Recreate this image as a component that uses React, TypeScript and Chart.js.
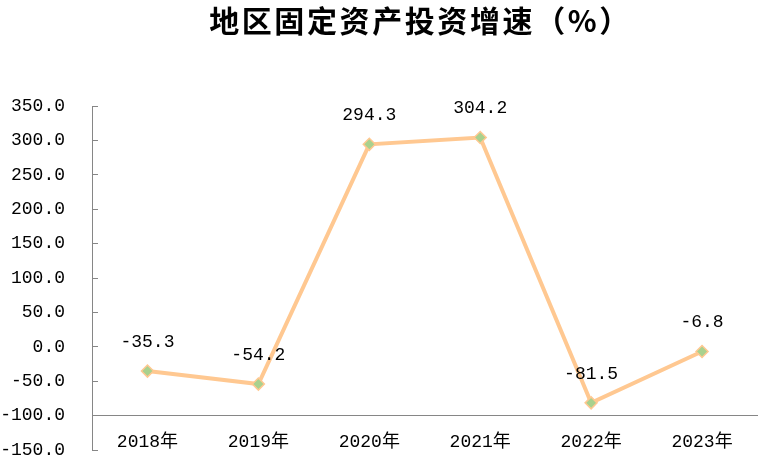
import React, { useEffect, useRef } from "react";
import { Chart, registerables } from "chart.js";

Chart.register(...registerables);

const categories = ["2018年", "2019年", "2020年", "2021年", "2022年", "2023年"];
const growth = [-35.3, -54.2, 294.3, 304.2, -81.5, -6.8];
const yTicks = [-150, -100, -50, 0, 50, 100, 150, 200, 250, 300, 350];
const baseLine = -100;
const titleText = "地区固定资产投资增速（%）";

const FONT = "'Liberation Mono', 'Noto Sans CJK SC', monospace";
const AXIS = "#868686";

const valueLabels = {
  id: "valueLabels",
  afterDatasetsDraw(chart: any) {
    const ctx = chart.ctx;
    const meta = chart.getDatasetMeta(0);
    ctx.save();
    ctx.font = `18px ${FONT}`;
    ctx.fillStyle = "#000";
    ctx.textAlign = "center";
    ctx.textBaseline = "middle";
    meta.data.forEach((pt: any, i: number) => {
      ctx.fillText(growth[i].toFixed(1), pt.x, pt.y - 29);
    });
    ctx.restore();
  },
};

export default function App() {
  const ref = useRef<HTMLCanvasElement | null>(null);

  useEffect(() => {
    if (!ref.current) return;
    const chart = new Chart(ref.current, {
      type: "line",
      data: {
        labels: categories,
        datasets: [
          {
            data: growth,
            borderColor: "#FFC891",
            borderWidth: 4,
            pointStyle: "rectRot",
            pointRadius: 6,
            pointBackgroundColor: "#A9D18E",
            pointBorderColor: "#FFC891",
            pointBorderWidth: 1.5,
            tension: 0,
            clip: false as any,
          },
        ],
      },
      options: {
        animation: false,
        responsive: true,
        maintainAspectRatio: false,
        layout: { padding: { top: 106, right: 3, bottom: 10, left: 0 } },
        plugins: {
          legend: { display: false },
          tooltip: { enabled: false },
          title: { display: false },
        },
        scales: {
          x: {
            type: "category",
            position: { y: baseLine } as any,
            offset: true,
            grid: { display: false, drawTicks: false },
            border: { display: true, color: AXIS, width: 1 },
            ticks: {
              font: { family: FONT, size: 18 },
              color: "#000",
              padding: 16,
              maxRotation: 0,
              autoSkip: false,
            },
          },
          y: {
            type: "linear",
            min: -150,
            max: 350,
            grid: {
              display: true,
              drawOnChartArea: false,
              drawTicks: true,
              tickLength: -6,
              color: AXIS,
            },
            border: { display: true, color: AXIS, width: 1 },
            ticks: {
              font: { family: FONT, size: 18 },
              color: "#000",
              padding: 33,
              callback: (v: any) => Number(v).toFixed(1),
            },
            afterBuildTicks: (scale: any) => {
              scale.ticks = yTicks.map((v) => ({ value: v }));
            },
            afterFit: (scale: any) => {
              scale.width = 92;
              scale.paddingTop = 0;
              scale.paddingBottom = 0;
            },
          },
        },
      },
      plugins: [valueLabels],
    });
    return () => chart.destroy();
  }, []);

  return (
    <div style={{ position: "absolute", left: 0, top: 0, width: 765, height: 460, background: "#fff" }}>
      <canvas ref={ref} />
      <div
        style={{
          position: "absolute",
          left: 0,
          top: 0,
          width: 765,
          boxSizing: "border-box",
          paddingLeft: 76,
          textAlign: "center",
          fontFamily: "'Noto Sans CJK SC', sans-serif",
          fontWeight: 700,
          fontSize: 30,
          lineHeight: "38px",
          letterSpacing: 2.6,
          color: "#000",
        }}
      >
        {titleText}
      </div>
    </div>
  );
}
